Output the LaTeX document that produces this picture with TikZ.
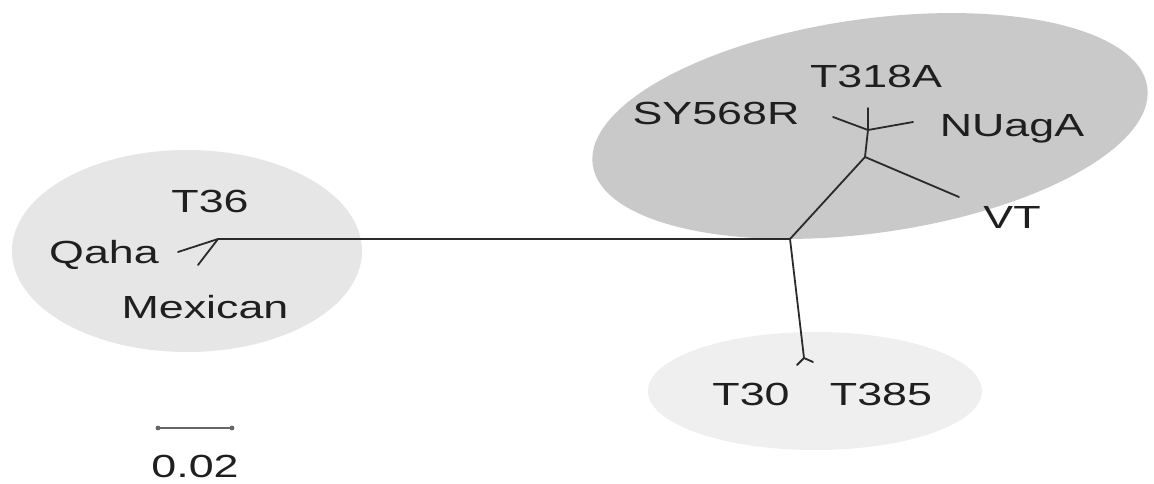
\documentclass[tikz,border=0pt]{standalone}
\usepackage{fontspec}
\setmainfont[FakeStretch=1.4]{Liberation Sans}
\definecolor{lefte}{HTML}{E6E6E6}
\definecolor{tope}{HTML}{C9C9C9}
\definecolor{bote}{HTML}{EFEFEF}
\definecolor{branch}{HTML}{2A2A2A}
\tikzset{
  lbl/.style={anchor=base, inner sep=0pt, font=\fontsize{32}{32}\selectfont, text=black!88},
  br/.style={draw=branch, line width=1.8pt, line cap=round, line join=round},
}
\begin{document}
\begin{tikzpicture}[x=1pt,y=-1pt]
\useasboundingbox (0,0) rectangle (1154,484);
\fill[white] (0,0) rectangle (1154,484);
% clusters
\fill[lefte] (187,251) ellipse [x radius=175, y radius=101];
\fill[tope, rotate around={8:(870,126)}] (870,126) ellipse [x radius=280, y radius=107];
\fill[bote] (815,391) ellipse [x radius=167, y radius=59];
% tree coordinates
\coordinate (L) at (218,239);
\coordinate (qaha) at (178,252);
\coordinate (mex) at (198,265);
\coordinate (R) at (790,239);
\coordinate (D) at (804,358);
\coordinate (t30) at (797,365);
\coordinate (t385) at (813,362);
\coordinate (U) at (865,157);
\coordinate (vt) at (959,197);
\coordinate (W) at (868,130);
\coordinate (t318) at (868,108);
\coordinate (sy) at (833,117);
\coordinate (nu) at (913,122);
% branches
\draw[br] (L) -- (R);
\draw[br] (L) -- (qaha);
\draw[br] (L) -- (mex);
\draw[br] (R) -- (D);
\draw[br] (D) -- (t30);
\draw[br] (D) -- (t385);
\draw[br] (R) -- (U);
\draw[br] (U) -- (vt);
\draw[br] (U) -- (W);
\draw[br] (W) -- (t318);
\draw[br] (W) -- (sy);
\draw[br] (W) -- (nu);
% labels
\node[lbl] (lT36) at (210,212) {T36};
\node[lbl] (lQaha) at (104,263) {Qaha};
\node[lbl] (lMex) at (205,318) {Mexican};
\node[lbl] (lSY) at (716,125) {SY568R};
\node[lbl] (lT318) at (876,88) {T318A};
\node[lbl] (lNU) at (1012,137) {NUagA};
\node[lbl] (lVT) at (1012,228) {VT};
\node[lbl] (lT30) at (751,405) {T30};
\node[lbl] (lT385) at (881,405) {T385};
% scale bar
\coordinate (sb1) at (158,428);
\coordinate (sb2) at (232,428);
\draw[draw=black!60, line width=2.2pt, line cap=round] (sb1) -- (sb2);
\fill[black!60] (sb1) circle [radius=2.4];
\fill[black!60] (sb2) circle [radius=2.4];
\node[lbl] (lscale) at (195,477) {0.02};
\end{tikzpicture}
\end{document}
